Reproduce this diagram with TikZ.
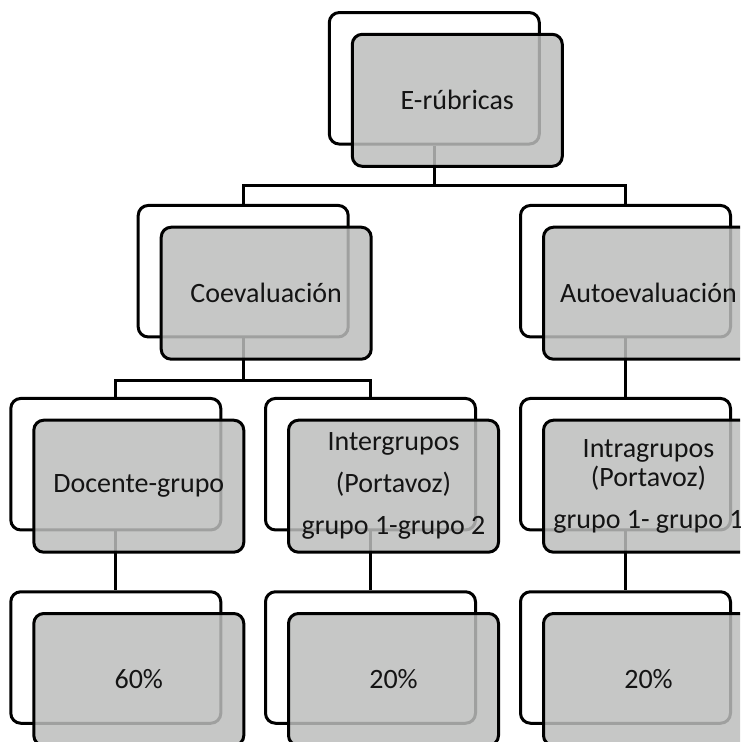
\documentclass[tikz,border=0pt]{standalone}
\usepackage{fontspec}
\setmainfont{Carlito}
\definecolor{boxgray}{RGB}{188,189,188}
\definecolor{txt}{RGB}{20,20,20}
\tikzset{
  backbox/.style={draw=black, line width=3pt, rounded corners=10pt, minimum width=210pt, minimum height=131.5pt, inner sep=0pt},
  frontbox/.style={draw=black, line width=3pt, rounded corners=10pt, fill=boxgray, fill opacity=0.85, text opacity=1, text=txt, minimum width=210pt, minimum height=132pt, inner sep=0pt, align=center, font=\fontsize{28}{42}\selectfont},
  link/.style={draw=black, line width=3pt}
}
\begin{document}
\begin{tikzpicture}[x=1pt,y=-1pt]
\useasboundingbox (0,0) rectangle (740,742);
\clip (0,0) rectangle (740,742);
% back boxes
\node[backbox] (rb) at (434.3,78.3) {};
\node[backbox] (cb) at (243.2,271.2) {};
\node[backbox] (ab) at (625.5,271.2) {};
\node[backbox] (db) at (115.8,464.2) {};
\node[backbox] (ib) at (370.5,464.2) {};
\node[backbox] (tb) at (625.5,464.2) {};
\node[backbox] (pb1) at (115.8,657.5) {};
\node[backbox] (pb2) at (370.5,657.5) {};
\node[backbox] (pb3) at (625.5,657.5) {};
% connectors
\coordinate (bar1) at (434.3,185.5);
\coordinate (bar2) at (243.2,380.5);
\draw[link] (rb.south) -- (bar1);
\draw[link] (cb.north) |- (bar1) -| (ab.north);
\draw[link] (cb.south) -- (bar2);
\draw[link] (db.north) |- (bar2) -| (ib.north);
\draw[link] (ab.south) -- (tb.north);
\draw[link] (db.south) -- (pb1.north);
\draw[link] (ib.south) -- (pb2.north);
\draw[link] (tb.south) -- (pb3.north);
% front boxes
\node[frontbox] (rf) at (457.3,100.3) {E-rúbricas};
\node[frontbox] (cf) at (266.2,293.2) {Coevaluación};
\node[frontbox] (af) at (648.5,293.2) {Autoevaluación};
\node[frontbox] (df) at (138.8,486.2) {Docente-grupo};
\node[frontbox] (if) at (393.5,486.2) {Intergrupos\\(Portavoz)\\grupo 1-grupo 2};
\node[frontbox] (tf) at (648.5,486.2) {Intragrupos\\[-13pt](Portavoz)\\grupo 1- grupo 1};
\node[frontbox] (pf1) at (138.8,679.5) {60\%};
\node[frontbox] (pf2) at (393.5,679.5) {20\%};
\node[frontbox] (pf3) at (648.5,679.5) {20\%};
\end{tikzpicture}
\end{document}
